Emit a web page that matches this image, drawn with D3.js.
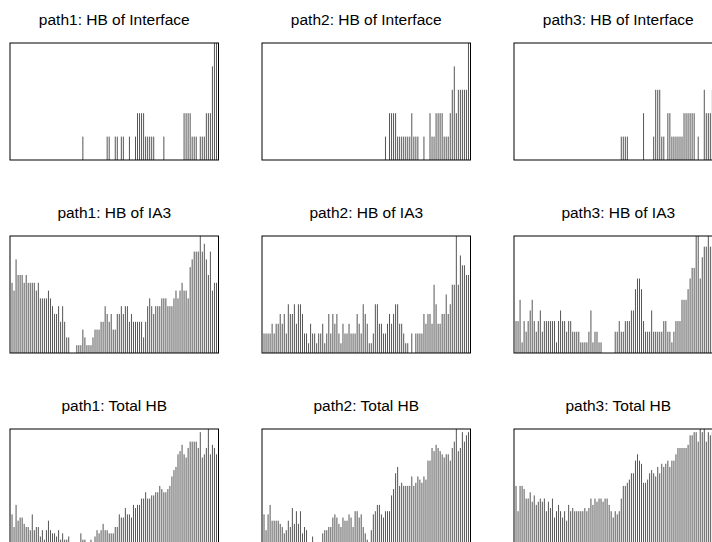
<!DOCTYPE html>
<html>
<head>
<meta charset="utf-8">
<script src="https://cdn.jsdelivr.net/npm/d3@7"></script>
<style>
  body { margin: 0; background: #fff; }
  svg { display: block; }
</style>
</head>
<body>
<div id="chart"></div>
<script>
// HB counts per position
const interface1 = [0,0,0,0,0,0,0,0,0,0, 0,0,0,0,0,0,0,0,0,0, 0,0,0,0,0,0,0,0,0,0,
  0,0,0,0,0,1,0,0,0,0, 0,0,0,0,0,0,0,1,1,0, 0,1,1,0,1,1,0,0,1,0,
  0,1,2,2,2,2,1,1,1,1, 1,0,0,0,0,1,0,0,0,0, 0,0,0,0,0,2,2,2,2,1,
  1,1,0,1,1,1,2,2,2,4, 5,5];
const interface2 = [0,0,0,0,0,0,0,0,0,0, 0,0,0,0,0,0,0,0,0,0, 0,0,0,0,0,0,0,0,0,0,
  0,0,0,0,0,0,0,0,0,0, 0,0,0,0,0,0,0,0,0,0, 0,0,0,0,0,0,0,0,0,0,
  1,0,2,2,2,2,1,1,1,1, 1,1,1,2,1,1,1,0,0,1, 0,0,2,1,1,2,2,2,2,1,
  1,1,2,3,4,2,3,3,3,3, 3,5];
const interface3 = [0,0,0,0,0,0,0,0,0,0, 0,0,0,0,0,0,0,0,0,0, 0,0,0,0,0,0,0,0,0,0,
  0,0,0,0,0,0,0,0,0,0, 0,0,0,0,0,0,0,0,0,0, 0,0,1,1,1,1,0,0,0,0,
  0,0,0,2,0,0,0,0,1,3, 3,3,1,1,0,2,2,1,1,1, 1,1,1,2,2,2,2,2,2,0,
  1,0,0,3,2,2,2,3,2,3, 3,5];

const ia3_1 = [9,8,12,10,10,10,9,10,9,9, 9,9,8,9,7,7,7,7,8,7, 6,5,5,6,4,6,4,2,2,0,
  0,0,1,1,1,3,2,1,1,1, 2,3,3,3,4,4,6,5,4,5, 3,3,5,5,6,5,6,6,4,5,
  4,4,4,4,4,2,4,6,7,6, 5,6,6,6,7,7,7,6,6,6, 7,8,7,8,9,8,8,7,11,12,
  13,13,13,15,13,14,12,10,13,8, 9,9];
const ia3_2 = [2,2,2,2,3,2,3,3,4,3, 4,2,5,4,4,5,3,5,5,4, 2,2,1,3,2,2,1,2,2,3,
  1,2,4,2,4,3,4,2,1,3, 2,2,3,2,2,2,4,3,2,5, 4,3,1,1,2,5,5,3,3,2,
  2,3,4,3,4,5,5,3,3,2, 1,1,0,2,0,2,2,2,2,4, 3,4,4,3,7,5,3,3,4,4,
  6,4,5,7,7,12,7,10,9,9, 8,8];
const ia3_3 = [3,3,5,1,3,2,3,4,5,3, 2,3,4,2,3,3,3,3,3,3, 1,3,4,3,3,2,3,3,2,2,
  2,2,1,1,1,1,2,4,1,2, 2,1,1,0,0,0,0,0,0,2, 2,3,2,2,3,3,3,4,4,6,
  7,7,6,3,2,2,2,4,2,2, 2,2,2,3,3,2,2,1,2,3, 3,3,5,5,5,6,7,8,8,11,
  11,7,9,10,10,11,10,10,9,10, 9,10];

const total1 = [10,6,13,8,9,9,7,6,6,5, 10,5,6,6,3,5,2,5,8,5, 4,4,3,5,2,4,2,2,3,1,
  0,0,0,0,4,2,2,1,1,2, 1,3,5,4,5,7,5,5,4,4, 4,6,6,10,9,9,12,10,10,9,
  13,12,13,13,15,15,17,15,15,16, 16,17,17,19,18,17,17,18,19,22,
  24,25,29,30,32,29,28,31,33,33, 33,33,31,36,28,29,31,37,29,32, 31,29];
const total2 = [10,5,10,13,8,8,8,8,7,6, 4,5,8,6,12,7,11,7,11,4, 6,5,1,0,3,0,0,0,0,4,
  5,5,6,6,9,10,9,7,6,9, 8,8,10,9,6,11,11,9,10,6, 4,2,0,5,10,11,13,13,10,9,
  11,11,11,16,18,23,25,19,20,19, 19,19,19,22,19,20,22,21,20,22,
  21,27,27,31,30,32,31,30,29,28, 29,29,27,31,33,37,30,31,36,33, 35,36];
const total3 = [19,11,19,19,18,15,15,17,14,16, 13,14,15,14,15,11,14,12,15,9,
  11,13,11,9,11,8,13,11,12,11, 11,11,11,11,12,11,12,15,13,15,
  14,15,15,14,15,15,13,11,9,11, 10,11,15,19,19,20,21,23,23,27,
  29,27,26,20,20,21,23,24,23,22, 25,23,26,25,26,27,25,27,27,29,
  31,31,31,31,31,32,35,35,36,36, 33,37,36,37,33,36,35,36,34,37, 36,35];

const titles = [
  "path1: HB of Interface", "path2: HB of Interface", "path3: HB of Interface",
  "path1: HB of IA3", "path2: HB of IA3", "path3: HB of IA3",
  "path1: Total HB", "path2: Total HB", "path3: Total HB"
];
const seriesList = [interface1, interface2, interface3, ia3_1, ia3_2, ia3_3, total1, total2, total3];

const width = 712;
const height = 542;
const colX = [10, 262, 514];
const rowY = [43, 236, 429];
const boxW = 208.5;
const boxH = 117;

const svg = d3.create("svg").attr("width", width).attr("height", height);

seriesList.forEach((values, p) => {
  const left = colX[p % 3];
  const top = rowY[Math.floor(p / 3)];
  const n = values.length;

  const x = d3.scaleLinear().domain([0, n + 1]).range([left, left + boxW]);
  const y = d3.scaleLinear().domain([0, d3.max(values)]).range([top + boxH, top]);

  const g = svg.append("g");

  // type = "h" style spikes
  g.append("g")
    .selectAll("line")
    .data(values.map((v, i) => ({ i: i + 1, v })).filter(d => d.v > 0))
    .join("line")
    .attr("x1", d => x(d.i))
    .attr("x2", d => x(d.i))
    .attr("y1", y(0))
    .attr("y2", d => y(d.v))
    .attr("stroke", "#555")
    .attr("stroke-width", 1);

  g.append("rect")
    .attr("x", left)
    .attr("y", top)
    .attr("width", boxW)
    .attr("height", boxH)
    .attr("fill", "none")
    .attr("stroke", "#000")
    .attr("stroke-width", 1);

  g.append("text")
    .attr("x", left + boxW / 2)
    .attr("y", top - 18)
    .attr("text-anchor", "middle")
    .attr("font-family", "'Liberation Sans', Arial, sans-serif")
    .attr("font-size", 15.5)
    .attr("fill", "#000")
    .text(titles[p]);
});

d3.select("#chart").node().appendChild(svg.node());
</script>
</body>
</html>
